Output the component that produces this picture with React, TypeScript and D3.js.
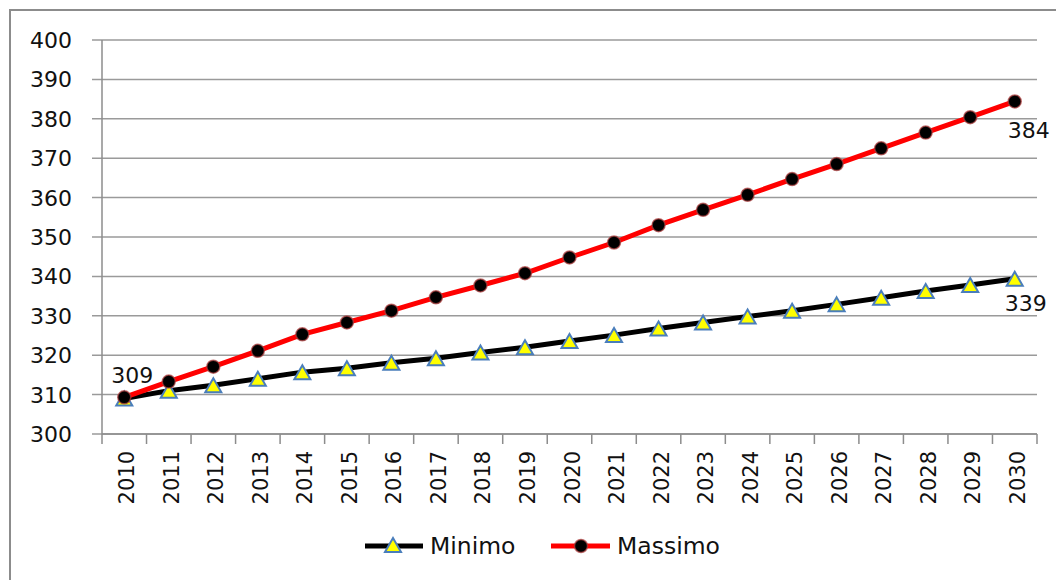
import React from "react";
import * as d3 from "d3";

const years = ["2010","2011","2012","2013","2014","2015","2016","2017","2018","2019","2020","2021","2022","2023","2024","2025","2026","2027","2028","2029","2030"];
const minimo = [309, 311, 312.4, 314, 315.7, 316.7, 318.1, 319.2, 320.7, 322, 323.6, 325.1, 326.8, 328.3, 329.8, 331.3, 332.9, 334.6, 336.3, 337.8, 339.4];
const massimo = [309.3, 313.3, 317.1, 321.1, 325.3, 328.3, 331.3, 334.7, 337.7, 340.8, 344.8, 348.6, 353, 356.9, 360.7, 364.7, 368.5, 372.5, 376.5, 380.4, 384.4];
const yTicks = [300, 310, 320, 330, 340, 350, 360, 370, 380, 390, 400];
const seriesNames = ["Minimo", "Massimo"];

const W = 1056, H = 580;
const left = 102, right = 1037, top = 40, bottom = 434;
const FONT = "DejaVu Sans, Verdana, sans-serif";

function Triangle({ x, y }: { x: number; y: number }) {
  const s = 8;
  return (
    <path
      d={`M${x},${y - s}L${x + s},${y + s * 0.75}L${x - s},${y + s * 0.75}Z`}
      fill="#ffff00"
      stroke="#4a7ebb"
      strokeWidth={2}
      strokeLinejoin="miter"
    />
  );
}

function Dot({ x, y }: { x: number; y: number }) {
  return <circle cx={x} cy={y} r={6.5} fill="#000" stroke="#b04040" strokeOpacity={0.7} strokeWidth={1.5} />;
}

export default function App() {
  const x = d3.scaleBand<string>().domain(years).range([left, right]);
  const y = d3.scaleLinear().domain([300, 400]).range([bottom, top]);
  const cx = (yr: string) => (x(yr) as number) + x.bandwidth() / 2;
  const line = d3.line<number>().x((_, i) => cx(years[i])).y((v) => y(v));
  const last = years.length - 1;
  const boundaries = years.map((yr) => x(yr) as number).concat([right]);

  return (
    <svg width={W} height={H} style={{ position: "absolute", left: 0, top: 0, background: "#fff" }} fontFamily={FONT}>
      <rect x={10} y={10} width={1100} height={700} fill="#fff" stroke="#8c8c8c" strokeWidth={2} />
      {/* gridlines */}
      {yTicks.map((t) => (
        <g key={t}>
          <line x1={92} x2={right} y1={y(t)} y2={y(t)} stroke="#9a9a9a" strokeWidth={1.5} />
          <text x={72} y={y(t)} dy="0.36em" textAnchor="end" fontSize={22} fill="#111">{t}</text>
        </g>
      ))}
      {/* axes */}
      <line x1={left} x2={left} y1={top} y2={bottom} stroke="#8c8c8c" strokeWidth={1.5} />
      <line x1={left} x2={right} y1={bottom} y2={bottom} stroke="#8c8c8c" strokeWidth={1.5} />
      {boundaries.map((b, i) => (
        <line key={i} x1={b} x2={b} y1={bottom} y2={bottom + 10} stroke="#8c8c8c" strokeWidth={1.5} />
      ))}
      {years.map((yr) => (
        <text key={yr} transform={`translate(${cx(yr) + 10},${bottom + 17}) rotate(-90)`} textAnchor="end" fontSize={21} fill="#111">
          {yr}
        </text>
      ))}
      {/* lines */}
      <path d={line(minimo) || ""} fill="none" stroke="#000" strokeWidth={5} />
      <path d={line(massimo) || ""} fill="none" stroke="#ff0000" strokeWidth={5} />
      {minimo.map((v, i) => <Triangle key={i} x={cx(years[i])} y={y(v) + 1} />)}
      {massimo.map((v, i) => <Dot key={i} x={cx(years[i])} y={y(v)} />)}
      {/* data labels */}
      <text x={cx(years[0]) + 8} y={y(massimo[0]) - 14} textAnchor="middle" fontSize={22} fill="#111">{Math.round(massimo[0])}</text>
      <text x={cx(years[last]) + 14} y={y(massimo[last]) + 37} textAnchor="middle" fontSize={22} fill="#111">{Math.round(massimo[last])}</text>
      <text x={cx(years[last]) + 11} y={y(minimo[last]) + 32} textAnchor="middle" fontSize={22} fill="#111">{Math.round(minimo[last])}</text>
      {/* legend */}
      <g>
        <line x1={365} x2={423} y1={546} y2={546} stroke="#000" strokeWidth={5} />
        <Triangle x={393} y={546} />
        <text x={430} y={546} dy="0.36em" fontSize={23.5} fill="#111">{seriesNames[0]}</text>
        <line x1={551} x2={610} y1={546} y2={546} stroke="#ff0000" strokeWidth={5} />
        <Dot x={581} y={546} />
        <text x={617} y={546} dy="0.36em" fontSize={23.5} fill="#111">{seriesNames[1]}</text>
      </g>
    </svg>
  );
}
